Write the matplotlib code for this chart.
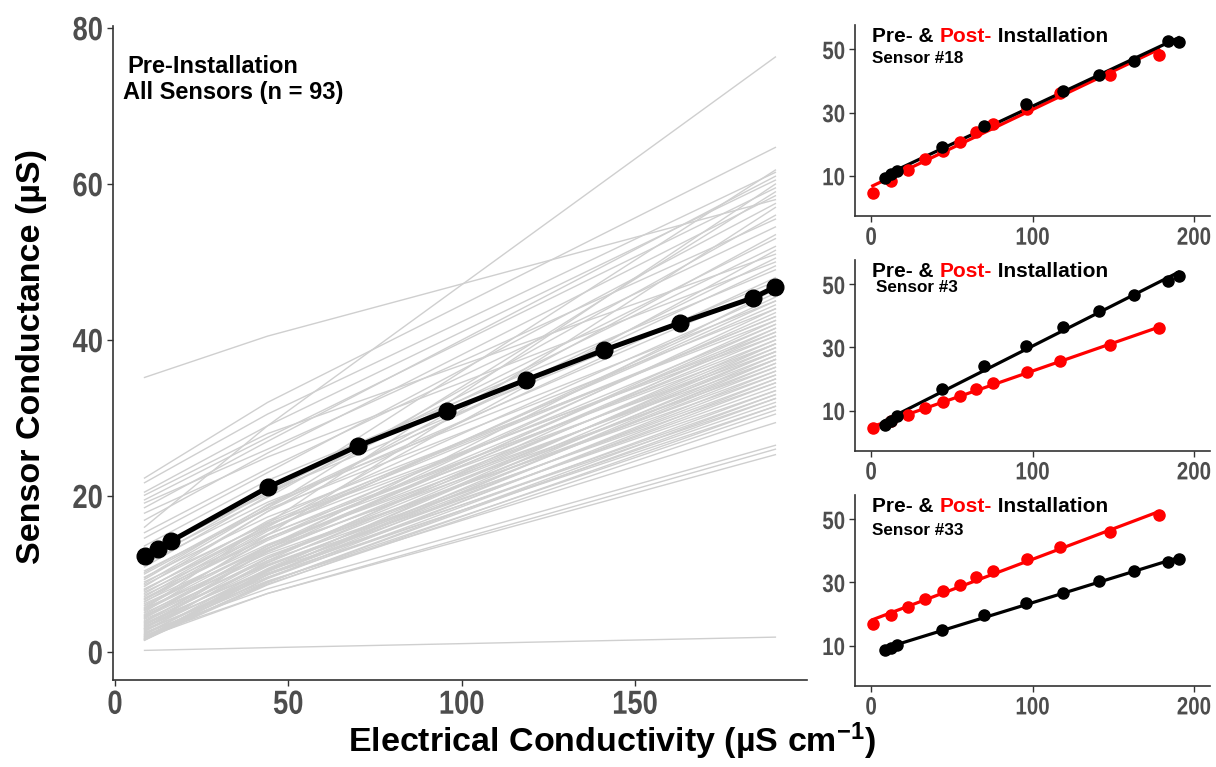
import numpy as np
import matplotlib.pyplot as plt
from matplotlib.patheffects import AbstractPathEffect
from matplotlib.transforms import Affine2D

plt.rcParams['font.family'] = ['Liberation Sans', 'DejaVu Sans']
plt.rcParams['mathtext.fontset'] = 'custom'
plt.rcParams['mathtext.rm'] = 'Liberation Sans:bold'
plt.rcParams['mathtext.it'] = 'Liberation Sans:bold'
plt.rcParams['mathtext.bf'] = 'Liberation Sans:bold'

# calibration standards (uS/cm)
ec_pre = [8.5, 12.4, 16.1, 44.0, 70.0, 95.7, 118.6, 141.0, 163.0, 184.0, 190.5]
ec_post = [1.0, 12.4, 22.9, 33.6, 44.3, 54.8, 65.2, 75.5, 96.7, 117.1, 148.1, 178.2]

# black reference curve on the big panel
ref_cond = [12.3, 13.2, 14.2, 21.1, 26.4, 30.9, 34.9, 38.7, 42.2, 45.4, 46.8]

# every sensor, pre-installation: conductance at the 8.5, 44 and 190.5 standards
gray_x = [8.5, 44.0, 190.5]
gray_lo = [35.2, 22.3, 21.7, 20.5, 20.1, 19.5, 19.1, 18.5, 17.8, 16.9, 16.0, 15.3, 14.6, 13.6,
           12.7, 12.2, 11.8, 11.3, 10.9, 10.4, 10.0, 9.6, 9.3, 9.0,
           8.8, 8.6, 8.4, 8.1, 7.9, 7.7, 7.5, 7.3, 7.1, 6.9,
           6.7, 6.5, 6.4, 6.2, 6.0, 5.9, 5.7, 5.6, 5.4, 5.3,
           5.1, 5.0, 4.8, 4.7, 4.6, 4.4, 4.3, 4.2, 4.0, 3.9,
           3.8, 3.7, 3.6, 3.5, 3.4, 3.3, 3.2, 3.1, 3.0, 2.9,
           2.8, 2.7, 2.6, 2.5, 2.4, 2.3, 2.2, 2.1, 2.0, 2.0,
           1.9, 1.8, 1.8, 1.7, 1.7, 1.6, 1.6, 1.5, 1.5,
           11.5, 10.2, 9.5, 8.0, 6.8, 5.5, 4.5, 3.0, 2.2,
           0.2]
gray_mid = [40.5, 32.0, 30.5, 29.0, 28.0, 27.5, 26.0, 27.0, 25.0, 25.5, 29.0, 23.5, 23.0, 22.0,
            20.2, 20.5, 19.8, 19.2, 20.0, 18.3, 18.5, 17.3, 18.5, 16.4,
            18.0, 16.6, 18.0, 15.8, 16.8, 15.1, 16.2, 14.6, 16.0, 14.6,
            15.0, 13.8, 15.5, 13.3, 14.3, 13.6, 14.5, 12.6, 13.6, 13.0,
            15.0, 12.3, 13.3, 11.7, 12.8, 12.0, 13.6, 11.1, 12.1, 11.2,
            12.9, 10.4, 11.5, 10.6, 12.0, 9.9, 11.0, 10.1, 11.4, 9.1,
            10.5, 9.6, 11.7, 8.1, 9.9, 9.0, 10.3, 7.5, 9.4, 8.7,
            9.9, 7.5, 10.3, 8.9, 9.5, 8.6, 10.5, 8.9, 9.9,
            20.5, 18.8, 18.9, 16.2, 15.7, 16.5, 13.3, 13.2, 10.7,
            0.55]
gray_hi = [58.0, 64.7, 61.5, 60.5, 51.0, 59.5, 55.5, 61.0, 50.0, 58.5, 76.3, 54.5, 57.5, 49.0,
           52.0, 47.5, 56.0, 45.0, 61.8, 44.0, 50.5, 42.5, 59.0, 40.5,
           48.0, 43.0, 53.5, 41.0, 46.0, 39.5, 44.5, 38.5, 51.5, 40.0,
           42.0, 37.5, 45.5, 36.5, 41.5, 39.0, 43.5, 35.5, 40.5, 38.0,
           57.0, 36.0, 41.0, 34.5, 39.5, 37.0, 44.0, 33.5, 38.5, 35.0,
           42.5, 32.5, 37.5, 34.0, 40.0, 31.5, 36.5, 33.0, 39.0, 29.4,
           35.5, 32.0, 41.5, 26.5, 34.5, 31.0, 37.0, 25.3, 33.5, 30.5,
           36.0, 26.0, 38.0, 32.5, 35.0, 31.5, 39.5, 33.0, 37.5,
           53.0, 47.0, 49.5, 43.0, 45.0, 60.0, 42.0, 46.5, 38.5,
           1.9]

# single sensors, pre (black) and post (red) installation
s18_pre = [9.2, 10.4, 11.5, 19.1, 25.7, 32.6, 36.9, 41.8, 46.4, 52.7, 52.5]
s18_post = [4.6, 8.3, 11.8, 15.2, 17.9, 20.8, 23.9, 26.4, 31.0, 36.1, 41.8, 48.2]
s3_pre = [5.5, 6.8, 8.2, 16.7, 24.1, 30.5, 36.4, 41.7, 46.7, 51.1, 52.7]
s3_post = [4.4, 6.8, 8.6, 10.9, 12.7, 14.6, 16.7, 18.6, 22.2, 25.7, 30.8, 36.1]
s33_pre = [8.6, 9.3, 10.2, 15.0, 19.6, 23.5, 26.6, 30.4, 33.7, 36.5, 37.3]
s33_post = [16.7, 19.6, 22.2, 24.7, 27.2, 29.2, 31.6, 33.5, 37.4, 41.1, 46.1, 51.3]

sensors = [("Sensor #18", s18_pre, s18_post),
           ("Sensor #3", s3_pre, s3_post),
           ("Sensor #33", s33_pre, s33_post)]

axcol = '#4d4d4d'


class Squeeze(AbstractPathEffect):
    """Narrow the glyphs horizontally (no narrow bold font on this box)."""

    def __init__(self, sx=0.82, anchor='center'):
        super().__init__()
        self.sx = sx
        self.anchor = anchor

    def draw_path(self, renderer, gc, tpath, affine, rgbFace=None):
        ext = tpath.get_extents(affine)
        cx = ext.x1 if self.anchor == 'right' else (ext.x0 + ext.x1) / 2
        aff = affine + Affine2D().translate(-cx, 0).scale(self.sx, 1).translate(cx, 0)
        renderer.draw_path(gc, tpath, aff, rgbFace)


def style_axes(a, size):
    for s in ['top', 'right']:
        a.spines[s].set_visible(False)
    for s in ['left', 'bottom']:
        a.spines[s].set_color('#333333')
        a.spines[s].set_linewidth(1.2)
    a.tick_params(length=4, width=1, color='#333333', labelcolor=axcol, pad=3)
    for lab in a.get_xticklabels():
        lab.set_fontweight('bold')
        lab.set_fontsize(size)
        lab.set_path_effects([Squeeze(0.82, 'center')])
    for lab in a.get_yticklabels():
        lab.set_fontweight('bold')
        lab.set_fontsize(size)
        lab.set_path_effects([Squeeze(0.82, 'right')])


fig = plt.figure(figsize=(12.16, 7.67), dpi=100)

# big panel
ax = fig.add_axes([0.0929, 0.1134, 0.5707, 0.853])
for lo, mid, hi in zip(gray_lo, gray_mid, gray_hi):
    ax.plot(gray_x, [lo, mid, hi], color='#cfcfcf', lw=1.0, zorder=1)
ax.plot(ec_pre, ref_cond, color='black', lw=3.6, marker='o', ms=12, zorder=3)
ax.set_xlim(-0.6, 199.6)
ax.set_ylim(-3.6, 80.3)
ax.set_xticks([0, 50, 100, 150])
ax.set_yticks([0, 20, 40, 60, 80])
style_axes(ax, 24)
ax.text(3.7, 75.1, "Pre-Installation", fontsize=17, fontweight='bold', va='center')
ax.text(2.3, 71.8, "All Sensors (n = 93)", fontsize=17, fontweight='bold', va='center')

# three sensors on the right
boxes = [[0.7031, 0.7184, 0.292, 0.249],
         [0.7031, 0.4124, 0.292, 0.2486],
         [0.7031, 0.106, 0.292, 0.2486]]
sub_pos = [(0.048, 0.827), (0.059, 0.858), (0.048, 0.816)]

for box, (name, pre, post), (sx, sy) in zip(boxes, sensors, sub_pos):
    a = fig.add_axes(box)
    for xs, ys, c in [(ec_post, post, 'red'), (ec_pre, pre, 'black')]:
        k, b = np.polyfit(xs, ys, 1)
        xx = np.array([min(xs), max(xs)])
        a.plot(xx, k * xx + b, color=c, lw=2.3, zorder=2)
        a.plot(xs, ys, 'o', color=c, ms=8, zorder=3)
    a.set_xlim(-10, 210)
    a.set_ylim(-2.75, 57.75)
    a.set_xticks([0, 100, 200])
    a.set_yticks([10, 30, 50])
    style_axes(a, 18)

    t1 = a.text(0.048, 0.942, "Pre- & ", transform=a.transAxes, fontsize=15,
                fontweight='bold', va='center')
    t2 = a.annotate("Post-", xy=(1, 0), xycoords=t1, va='bottom', fontsize=15,
                    fontweight='bold', color='red')
    a.annotate(" Installation", xy=(1, 0), xycoords=t2, va='bottom', fontsize=15,
               fontweight='bold')
    a.text(sx, sy, name, transform=a.transAxes, fontsize=12.3, fontweight='bold',
           va='center')

fig.text(0.026, 0.535, "Sensor Conductance (µS)", rotation=90, fontsize=24.5,
         fontweight='bold', ha='center', va='center')
fig.text(0.503, 0.006, r"Electrical Conductivity (µS cm$^{-1}$)", fontsize=24.5,
         fontweight='bold', ha='center', va='bottom')

fig.savefig('out.png', dpi=100)
